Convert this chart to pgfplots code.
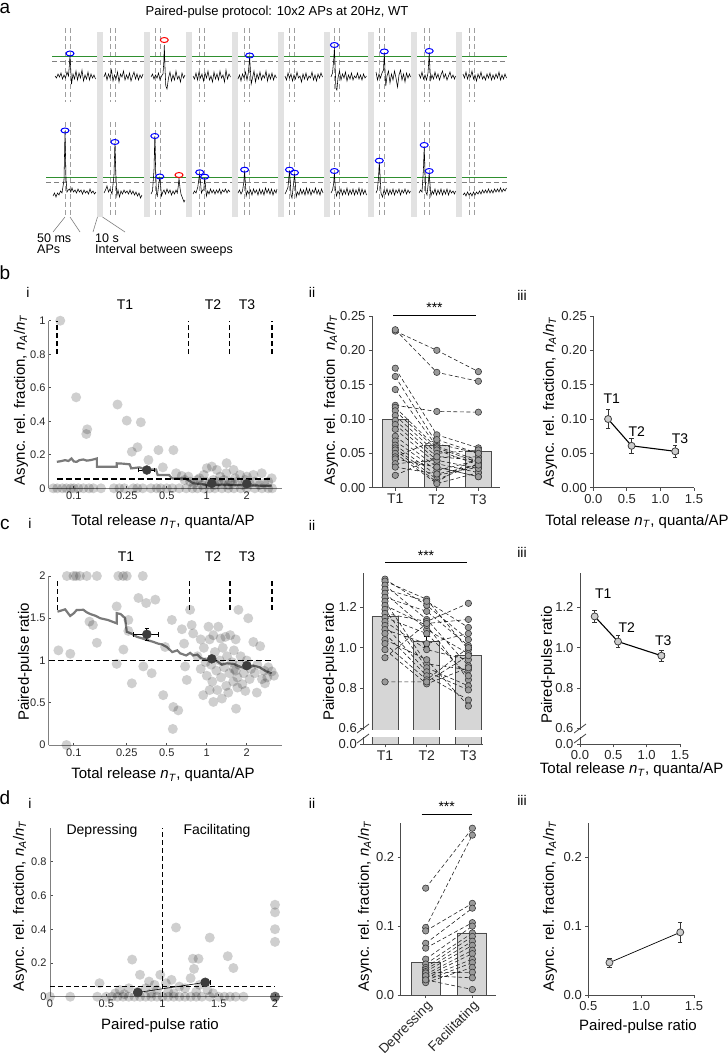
\documentclass[border=0pt]{standalone}
\usepackage{fontspec}
\setmainfont{Liberation Sans}
\usepackage{pgfplots}
\usepackage{pgfplotstable}
\pgfplotsset{compat=1.18}

\definecolor{barfill}{HTML}{D6D6D6}
\definecolor{ptfill}{HTML}{9A9A9A}
\definecolor{ptedge}{HTML}{3A3A3A}
\definecolor{trend}{HTML}{7A7A7A}
\definecolor{meanpt}{HTML}{3C3C3C}
\definecolor{sweepbar}{HTML}{E2E2E2}
\definecolor{thrgreen}{HTML}{2F8F2F}

\newcommand{\tkA}{\fontsize{11}{12}\selectfont}
\newcommand{\tkB}{\fontsize{13}{14}\selectfont}
\newcommand{\lab}{\fontsize{15}{17}\selectfont}
\newcommand{\pan}{\fontsize{19}{21}\selectfont}
\newcommand{\subl}{\fontsize{14}{16}\selectfont}
\newcommand{\smf}{\fontsize{12.5}{10.5}\selectfont}
\newcommand{\nA}{\textit{n}\textsubscript{\textit{A}}}
\newcommand{\nT}{\textit{n}\textsubscript{\textit{T}}}

\pgfplotsset{
  fig/.style={scale only axis, anchor=south west, clip=false, axis lines=left,
    axis line style={-, black!70, line width=0.8pt},
    tick style={black!70, line width=0.8pt}, major tick length=3pt, tick align=outside,
    tick label style={font=\tkB, text=black!85}, xminorticks=false, yminorticks=false},
  figi/.style={fig, tick label style={font=\tkA},
    axis line style={-, black!50, line width=1pt}, tick align=inside, major tick length=2.5pt},
  scat/.style={only marks, mark=*, mark size=5pt,
    mark options={fill=black, draw=black, draw opacity=0, fill opacity=0.19}},
  pts/.style={only marks, mark=*, mark size=3.2pt, mark options={fill=ptfill, draw=ptedge, line width=0.6pt}},
  pair/.style={no marks, black!85, line width=0.6pt, dash pattern=on 4pt off 2.5pt, unbounded coords=jump},
  tdash/.style={no marks, black, line width=1.6pt, dash pattern=on 5pt off 3pt, unbounded coords=jump},
  bars/.style={ybar, bar shift=0pt, fill=barfill, draw=black!70, line width=0.8pt,
    error bars/y dir=both, error bars/y explicit,
    error bars/error bar style={black, line width=0.8pt},
    error bars/error mark options={rotate=90, mark size=2.5pt}},
  meanline/.style={black, line width=1.1pt, mark=*, mark size=3.5pt,
    mark options={fill=gray!40, draw=black!75, line width=0.8pt},
    error bars/x dir=both, error bars/x explicit, error bars/y dir=both, error bars/y explicit,
    error bars/error bar style={black!80, line width=0.8pt},
    error bars/error mark options={rotate=90, mark size=2.2pt}},
  bigmean/.style={mark=*, mark size=4.5pt, mark options={fill=meanpt, draw=meanpt},
    error bars/x dir=both, error bars/x explicit, error bars/y dir=both, error bars/y explicit,
    error bars/error bar style={black, line width=0.8pt},
    error bars/error mark options={rotate=90, mark size=2.2pt}},
}

% paired values: T1, T2, T3 per cell (b ii)
\pgfplotstableread[row sep=\\]{
x y\\
1 0.228\\ 2 0.200\\ 3 0.169\\ 3 nan\\
1 0.230\\ 2 0.168\\ 3 0.155\\ 3 nan\\
1 0.120\\ 2 0.111\\ 3 0.110\\ 3 nan\\
1 0.174\\ 2 0.077\\ 3 0.058\\ 3 nan\\
1 0.162\\ 2 0.064\\ 3 0.050\\ 3 nan\\
1 0.143\\ 2 0.060\\ 3 0.040\\ 3 nan\\
1 0.117\\ 2 0.058\\ 3 0.037\\ 3 nan\\
1 0.112\\ 2 0.055\\ 3 0.033\\ 3 nan\\
1 0.105\\ 2 0.050\\ 3 0.055\\ 3 nan\\
1 0.098\\ 2 0.045\\ 3 0.045\\ 3 nan\\
1 0.092\\ 2 0.040\\ 3 0.028\\ 3 nan\\
1 0.085\\ 2 0.035\\ 3 0.022\\ 3 nan\\
1 0.075\\ 2 0.030\\ 3 0.016\\ 3 nan\\
1 0.068\\ 2 0.025\\ 3 0.040\\ 3 nan\\
1 0.062\\ 2 0.018\\ 3 0.030\\ 3 nan\\
1 0.058\\ 2 0.012\\ 3 0.035\\ 3 nan\\
1 0.055\\ 2 0.008\\ 3 0.045\\ 3 nan\\
1 0.050\\ 2 0.006\\ 3 0.022\\ 3 nan\\
1 0.045\\ 2 0.070\\ 3 0.050\\ 3 nan\\
1 0.042\\ 2 0.030\\ 3 0.016\\ 3 nan\\
1 0.035\\ 2 0.040\\ 3 0.028\\ 3 nan\\
1 0.030\\ 2 0.020\\ 3 0.033\\ 3 nan\\
1 0.018\\ 2 0.045\\ 3 0.040\\
}\pairB

% paired-pulse ratio per cell (c ii)
\pgfplotstableread[row sep=\\]{
x y\\
1 1.34\\ 2 1.21\\ 3 1.04\\ 3 nan\\
1 1.33\\ 2 1.24\\ 3 0.99\\ 3 nan\\
1 1.31\\ 2 1.14\\ 3 0.91\\ 3 nan\\
1 1.29\\ 2 1.23\\ 3 1.10\\ 3 nan\\
1 1.27\\ 2 1.09\\ 3 0.97\\ 3 nan\\
1 1.25\\ 2 1.18\\ 3 1.01\\ 3 nan\\
1 1.23\\ 2 0.92\\ 3 0.89\\ 3 nan\\
1 1.21\\ 2 1.11\\ 3 0.84\\ 3 nan\\
1 1.19\\ 2 0.90\\ 3 0.81\\ 3 nan\\
1 1.17\\ 2 1.13\\ 3 1.22\\ 3 nan\\
1 1.15\\ 2 1.07\\ 3 0.86\\ 3 nan\\
1 1.13\\ 2 0.99\\ 3 0.94\\ 3 nan\\
1 1.11\\ 2 0.88\\ 3 0.79\\ 3 nan\\
1 1.09\\ 2 1.02\\ 3 1.07\\ 3 nan\\
1 1.07\\ 2 0.86\\ 3 0.74\\ 3 nan\\
1 1.04\\ 2 0.94\\ 3 0.71\\ 3 nan\\
1 1.02\\ 2 0.84\\ 3 1.00\\ 3 nan\\
1 0.99\\ 2 0.82\\ 3 0.90\\ 3 nan\\
1 0.95\\ 2 1.12\\ 3 1.14\\ 3 nan\\
1 0.83\\ 2 0.83\\ 3 0.96\\
}\pairC

% depressing vs facilitating (d ii)
\pgfplotstableread[row sep=\\]{
x y\\
1 0.155\\ 2 0.242\\ 2 nan\\
1 0.098\\ 2 0.232\\ 2 nan\\
1 0.093\\ 2 0.133\\ 2 nan\\
1 0.075\\ 2 0.126\\ 2 nan\\
1 0.068\\ 2 0.105\\ 2 nan\\
1 0.052\\ 2 0.100\\ 2 nan\\
1 0.045\\ 2 0.090\\ 2 nan\\
1 0.040\\ 2 0.085\\ 2 nan\\
1 0.037\\ 2 0.078\\ 2 nan\\
1 0.034\\ 2 0.072\\ 2 nan\\
1 0.030\\ 2 0.065\\ 2 nan\\
1 0.027\\ 2 0.060\\ 2 nan\\
1 0.025\\ 2 0.052\\ 2 nan\\
1 0.021\\ 2 0.047\\ 2 nan\\
1 0.018\\ 2 0.040\\ 2 nan\\
1 0.032\\ 2 0.033\\ 2 nan\\
1 0.028\\ 2 0.025\\ 2 nan\\
1 0.022\\ 2 0.008\\
}\pairD

\begin{document}
\begin{tikzpicture}
\path[use as bounding box] (0,0) rectangle (728pt,-1053pt);

%%%%%%%%%%%%%%%% panel a: traces, in pixel units
\begin{axis}[at={(0pt,0pt)}, anchor=north west, scale only axis, width=728pt, height=260pt,
  xmin=0, xmax=728, ymin=0, ymax=260, y dir=reverse, axis lines=none, clip=false]
% AP windows
\addplot[gray!75, line width=0.6pt, dash pattern=on 5pt off 3pt, unbounded coords=jump] coordinates {
(65,28)(65,102)(65,nan)(65,122)(65,217)(65,nan)(70,28)(70,102)(70,nan)(70,122)(70,217)(70,nan)
(109.9,28)(109.9,102)(109.9,nan)(109.9,122)(109.9,217)(109.9,nan)(114.9,28)(114.9,102)(114.9,nan)(114.9,122)(114.9,217)(114.9,nan)
(154.8,28)(154.8,102)(154.8,nan)(154.8,122)(154.8,217)(154.8,nan)(159.8,28)(159.8,102)(159.8,nan)(159.8,122)(159.8,217)(159.8,nan)
(199.7,28)(199.7,102)(199.7,nan)(199.7,122)(199.7,217)(199.7,nan)(204.7,28)(204.7,102)(204.7,nan)(204.7,122)(204.7,217)(204.7,nan)
(244.6,28)(244.6,102)(244.6,nan)(244.6,122)(244.6,217)(244.6,nan)(249.6,28)(249.6,102)(249.6,nan)(249.6,122)(249.6,217)(249.6,nan)
(289.5,28)(289.5,102)(289.5,nan)(289.5,122)(289.5,217)(289.5,nan)(294.5,28)(294.5,102)(294.5,nan)(294.5,122)(294.5,217)(294.5,nan)
(334.4,28)(334.4,102)(334.4,nan)(334.4,122)(334.4,217)(334.4,nan)(339.4,28)(339.4,102)(339.4,nan)(339.4,122)(339.4,217)(339.4,nan)
(379.3,28)(379.3,102)(379.3,nan)(379.3,122)(379.3,217)(379.3,nan)(384.3,28)(384.3,102)(384.3,nan)(384.3,122)(384.3,217)(384.3,nan)
(424.2,28)(424.2,102)(424.2,nan)(424.2,122)(424.2,217)(424.2,nan)(429.2,28)(429.2,102)(429.2,nan)(429.2,122)(429.2,217)(429.2,nan)
(469.1,28)(469.1,102)(469.1,nan)(469.1,122)(469.1,217)(469.1,nan)(474.1,28)(474.1,102)(474.1,nan)(474.1,122)(474.1,217)
};
% thresholds
\addplot[thrgreen, line width=0.8pt, unbounded coords=jump] coordinates {(52,56.7)(507,56.7)(507,nan)(46,177.3)(507,177.3)};
\addplot[gray, line width=0.8pt, dash pattern=on 5pt off 3pt, unbounded coords=jump] coordinates {(52,61)(507,61)(507,nan)(46,182.7)(507,182.7)};
% intervals between sweeps
\addplot[fill=sweepbar, draw=none] coordinates {(97,32)(103,32)(103,217)(97,217)};
\addplot[fill=sweepbar, draw=none] coordinates {(144,32)(150,32)(150,217)(144,217)};
\addplot[fill=sweepbar, draw=none] coordinates {(186,32)(192,32)(192,217)(186,217)};
\addplot[fill=sweepbar, draw=none] coordinates {(231.5,32)(237.5,32)(237.5,217)(231.5,217)};
\addplot[fill=sweepbar, draw=none] coordinates {(278,32)(284,32)(284,217)(278,217)};
\addplot[fill=sweepbar, draw=none] coordinates {(324,32)(330,32)(330,217)(324,217)};
\addplot[fill=sweepbar, draw=none] coordinates {(367.5,32)(373.5,32)(373.5,217)(367.5,217)};
\addplot[fill=sweepbar, draw=none] coordinates {(411,32)(417,32)(417,217)(411,217)};
\addplot[fill=sweepbar, draw=none] coordinates {(456,32)(462,32)(462,217)(456,217)};
% top row traces
\addplot[black, line width=0.55pt, unbounded coords=jump] coordinates {
(55,76)(56.5,78)(58,74)(59.5,77)(61,73)(62.5,79)(64,75)(65.5,78)(67,72)(68.5,76)(69.3,66)(70,55)(70.8,70)(71.5,84)(73,74)(74.5,79)(76,71)(77.5,80)(79,73)(80.5,78)(82,70)(83.5,81)(85,75)(86.5,79)(88,72)(89.5,80)(91,74)(92.5,78)(94,75)(95.5,79)(95.5,nan)
(104,77)(105.5,73)(107,80)(108.5,74)(110,78)(111.5,70)(113,81)(114.5,75)(116,79)(117.5,72)(119,82)(120.5,74)(122,77)(123.5,71)(125,80)(126.5,75)(128,79)(129.5,73)(131,81)(132.5,76)(134,72)(135.5,79)(137,74)(138.5,80)(140,75)(141.5,78)(143,74)(143,nan)
(151,77)(152.5,74)(154,79)(155.5,75)(157,78)(158.5,73)(160,80)(161.5,76)(163,74)(163.8,62)(164.3,45)(165,68)(165.8,86)(167,89)(168.5,78)(170,72)(171.5,81)(173,75)(174.5,80)(176,71)(177.5,79)(179,76)(180.5,82)(182,73)(183.5,78)(185,75)(185,nan)
(193,76)(194.5,79)(196,73)(197.5,80)(199,72)(200.5,78)(202,74)(203.5,81)(205,73)(206.5,78)(208,71)(209.5,80)(211,76)(212.5,82)(214,72)(215.5,79)(217,74)(218.5,80)(220,71)(221.5,78)(223,75)(224.5,82)(226,70)(227.5,79)(229,74)(230.5,77)(230.5,nan)
(238,79)(239.5,75)(241,81)(242.5,74)(244,78)(245.5,72)(247,80)(248.3,73)(249,65)(249.6,57)(250.3,68)(251.2,84)(252.5,78)(254,71)(255.5,82)(257,74)(258.5,79)(260,72)(261.5,80)(263,75)(264.5,78)(266,71)(267.5,81)(269,74)(270.5,79)(272,73)(273.5,80)(275,75)(276.5,78)(276.5,nan)
(285,76)(286.5,80)(288,73)(289.5,78)(291,74)(292.5,81)(294,75)(295.5,79)(297,72)(298.5,78)(300,76)(301.5,82)(303,74)(304.5,79)(306,73)(307.5,80)(309,76)(310.5,78)(312,72)(313.5,80)(315,75)(316.5,81)(318,74)(319.5,78)(321,73)(322.5,77)(322.5,nan)
(331,77)(332.5,73)(333.7,60)(334.4,48)(335.1,66)(335.9,88)(336.9,90)(338,78)(339.5,71)(341,80)(342.5,74)(344,78)(345.5,72)(347,81)(348.5,75)(350,79)(351.5,73)(353,80)(354.5,76)(356,78)(357.5,73)(359,79)(360.5,75)(362,80)(363.5,74)(365,78)(366.5,76)(366.5,nan)
(376,72)(377.5,80)(379,74)(380.5,78)(382,73)(383.5,70)(384.3,53)(385,70)(385.8,86)(387,76)(388.5,71)(390,83)(391.5,74)(393,80)(394.5,71)(396,78)(397.5,87)(399,75)(400.5,70)(402,80)(403.5,74)(405,82)(406.5,73)(408,78)(409.5,74)(410.5,77)(410.5,nan)
(419,74)(420.5,78)(422,72)(423.5,79)(425,75)(426.5,80)(428,73)(428.6,64)(429.2,53)(429.9,68)(430.7,80)(432,75)(433.5,79)(435,72)(436.5,78)(438,74)(439.5,80)(441,75)(442.5,71)(444,78)(445.5,74)(447,80)(448.5,76)(450,72)(451.5,78)(453,75)(454.5,79)(455.5,76)(455.5,nan)
(463,74)(464.5,78)(466,72)(467.5,79)(469,74)(470.5,77)(472,71)(473.5,79)(475,75)(476.5,81)(478,74)(479.5,78)(481,72)(482.5,79)(484,76)(485.5,80)(487,74)(488.5,78)(490,73)(491.5,80)(493,75)(494.5,79)(496,74)(497.5,78)(499,72)(500.5,80)(502,75)(503.5,79)(505,74)(506.5,78)
};
% bottom row traces
\addplot[black, line width=0.55pt, unbounded coords=jump] coordinates {
(53,196)(54.5,193)(56,197)(57.5,193)(59,195)(60.5,191)(62,193)(64,180)(65,131)(66,178)(67,192)(68.3,190)(69.5,189)(70.8,192)(72,188)(73.5,192)(75,190)(76.5,193)(78,189)(79.5,192)(81,190)(82.5,194)(84,190)(85.5,193)(87,191)(88.5,194)(90,189)(91.5,193)(93,191)(94.5,194)(96,192)(96,nan)
(104,193)(105.5,190)(107,186)(108.5,192)(110,189)(112,194)(114,175)(114.9,143)(115.8,172)(116.8,196)(118,190)(119.5,197)(121,191)(122.5,194)(124,190)(125.5,193)(127,191)(128.5,194)(130,190)(131.5,194)(133,191)(134.5,195)(136,192)(137.5,196)(139,193)(140.5,198)(142,195)(142,nan)
(151,194)(152.5,191)(154,170)(154.8,136)(155.6,168)(156.4,193)(157.3,196)(158.2,189)(159,182)(159.8,178)(160.6,185)(161.5,196)(162.8,192)(164,190)(165.5,194)(167,189)(168.5,193)(170,190)(171.5,195)(173,191)(174.5,194)(176,190)(177.3,193)(178.3,186)(179,178)(180,188)(181,194)(182.5,198)(184,202)(185,200)(185,nan)
(193,194)(194.5,191)(196,193)(197.8,187)(199,178)(199.7,174)(200.5,182)(201.4,193)(202.6,190)(203.8,190)(204.2,184)(204.7,178)(205.5,186)(206.4,196)(207.7,191)(209,194)(210.5,189)(212,193)(213.5,190)(215,194)(216.5,190)(218,193)(219.5,189)(221,194)(222.5,190)(224,192)(225.5,189)(227,193)(228.5,190)(230,192)(230,nan)
(238,193)(239.5,190)(241,194)(242.5,191)(243.8,182)(244.6,171)(245.4,183)(246.2,196)(247.5,191)(249,194)(250.5,190)(252,195)(253.5,189)(255,193)(256.5,190)(258,195)(259.5,189)(261,194)(262.5,190)(264,195)(265.5,188)(267,193)(268.5,189)(270,194)(271.5,189)(273,195)(274.5,190)(276,193)(277,189)(277,nan)
(285,194)(286.5,191)(288,187)(288.8,178)(289.5,171)(290.2,180)(291,195)(292,198)(293.3,186)(294.5,174)(295.3,183)(296.2,197)(297.5,192)(299,195)(300.5,189)(302,194)(303.5,190)(305,195)(306.5,188)(308,194)(309.5,189)(311,195)(312.5,190)(314,193)(315.5,188)(317,194)(318.5,190)(320,195)(321.5,189)(323,193)(323,nan)
(331,193)(332.5,190)(333.6,184)(334.4,173)(335.3,188)(336.5,196)(338,191)(339.5,194)(341,189)(342.5,195)(344,190)(345.5,194)(347,188)(348.5,195)(350,190)(351.5,194)(353,189)(354.5,195)(356,190)(357.5,194)(359,188)(360.5,195)(362,189)(363.5,194)(365,190)(366.5,195)(366.5,nan)
(376,193)(377.3,190)(378.5,178)(379.3,162)(380.1,176)(381,193)(382.5,197)(384,190)(385.5,194)(387,189)(388.5,195)(390,190)(391.5,194)(393,189)(394.5,195)(396,190)(397.5,193)(399,189)(400.5,195)(402,190)(403.5,193)(405,189)(406.5,194)(408,190)(409.5,193)(410.5,191)(410.5,nan)
(419,193)(420.5,190)(422,192)(423.4,170)(424.2,147)(425,170)(425.8,192)(427,195)(428.4,182)(429.2,173)(430,184)(430.9,196)(432.2,191)(433.5,194)(435,189)(436.5,195)(438,190)(439.5,194)(441,189)(442.5,195)(444,190)(445.5,194)(447,189)(448.5,195)(450,190)(451.5,193)(453,191)(454.5,194)(455.5,191)(455.5,nan)
(463,195)(464.5,193)(466,196)(467.5,192)(469,195)(470.5,193)(472,196)(473.5,192)(475,195)(476.5,192)(478,194)(479.5,191)(481,194)(482.5,190)(484,193)(485.5,190)(487,193)(488.5,189)(490,193)(491.5,190)(493,193)(494.5,189)(496,192)(497.5,189)(499,192)(500.5,188)(502,192)(503.5,189)(505,191)(506.5,188)
};
% detected events
\addplot[only marks, mark=o, mark size=2.5pt, blue, mark options={xscale=1.6, line width=1pt}] coordinates {
(70,53.5)(249.6,55.5)(334.4,45)(384.3,51.5)(429.2,51)
(65,130.5)(114.9,142)(154.8,136)(159.8,176.5)(199.7,172.3)(204.7,176.7)(244.6,169.7)(289.5,169.7)(294.5,172.7)(334.4,171)(379.3,160.7)(424.2,145)(429.2,171)};
\addplot[only marks, mark=o, mark size=2.5pt, red, mark options={xscale=1.6, line width=1pt}] coordinates {(164.3,40)(179,175)};
% pointers to the legend text
\addplot[gray, line width=0.6pt, unbounded coords=jump] coordinates {(65,217)(53,232)(53,nan)(70,217)(80,232)(80,nan)(97.5,217)(93,232)(93,nan)(102.5,217)(125,232)};
\end{axis}

%%%%%%%%%%%%%%%% b i
\begin{axis}[figi, at={(49pt,-488.3pt)}, width=233pt, height=167.6pt, xmode=log,
  xmin=0.065, xmax=3.68, ymin=0, ymax=1,
  xtick={0.1,0.25,0.5,1,2}, xticklabels={0.1,0.25,0.5,1,2},
  ytick={0,0.2,0.4,0.6,0.8,1}, yticklabels={0,0.2,0.4,0.6,0.8,1}]
\addplot[scat] coordinates {
(0.079,1.0)(0.104,0.543)(0.126,0.352)(0.124,0.324)(0.213,0.50)(0.25,0.404)(0.319,0.394)(0.301,0.245)(0.273,0.218)
(0.364,0.169)(0.433,0.228)(0.467,0.125)(0.561,0.228)(0.588,0.09)(0.648,0.074)(0.727,0.07)(0.88,0.06)(1.0,0.12)
(1.09,0.13)(1.19,0.11)(1.26,0.07)(1.41,0.15)(1.59,0.11)(1.63,0.06)(1.78,0.08)(2.24,0.08)(2.59,0.09)(3.08,0.06)
(0.68,0.05)(0.75,0.04)(0.8,0.03)(0.85,0.05)(0.92,0.02)(0.98,0.04)(1.05,0.03)(1.12,0.05)(1.15,0.02)(1.22,0.04)
(1.3,0.03)(1.35,0.05)(1.45,0.02)(1.5,0.04)(1.55,0.03)(1.7,0.04)(1.85,0.02)(1.95,0.05)(2.1,0.03)(2.3,0.04)
(2.5,0.02)(2.7,0.03)(2.9,0.04)(0.95,0.08)(1.4,0.09)(2.0,0.07)
(0.07,0)(0.075,0)(0.082,0)(0.088,0)(0.095,0)(0.1,0)(0.108,0)(0.118,0)(0.13,0)(0.14,0)(0.16,0)(0.2,0)(0.22,0)
(0.24,0)(0.28,0)(0.3,0)(0.33,0)(0.38,0)(0.42,0)(0.45,0)(0.5,0)(0.55,0)(0.62,0)(0.7,0)(0.78,0)(0.85,0)(0.95,0)
(1.05,0)(1.15,0)(1.3,0)(1.45,0)(1.6,0)(1.8,0)(2.0,0)(2.3,0)(2.6,0)(2.9,0)(3.1,0)};
\addplot[trend, line width=2.2pt] coordinates {
(0.0745,0.158)(0.08,0.162)(0.086,0.168)(0.091,0.163)(0.096,0.178)(0.1,0.16)(0.105,0.158)(0.11,0.168)(0.118,0.172)
(0.125,0.165)(0.133,0.168)(0.14,0.172)(0.149,0.178)(0.149,0.129)(0.18,0.129)(0.21,0.129)(0.21,0.149)(0.235,0.147)
(0.263,0.143)(0.27,0.119)(0.29,0.122)(0.312,0.125)(0.33,0.118)(0.35,0.113)(0.415,0.113)(0.427,0.079)(0.52,0.079)
(0.55,0.059)(0.69,0.059)(0.74,0.045)(0.79,0.03)(0.9,0.026)(1.0,0.02)(1.3,0.022)(1.59,0.02)(2.2,0.017)(3.08,0.014)};
\addplot[tdash] coordinates {(0.0745,0.8)(0.0745,1)(0.0745,nan)(0.727,0.8)(0.727,1)(0.727,nan)(1.48,0.8)(1.48,1)(1.48,nan)(3.08,0.8)(3.08,1)};
\addplot[no marks, black, line width=1.4pt, dash pattern=on 6pt off 3pt] coordinates {(0.0745,0.055)(3.08,0.055)};
\addplot[bigmean, only marks] coordinates {(0.354,0.109) +- (0.05,0.014) (1.09,0.03) +- (0.05,0.005) (2.0,0.027) +- (0.06,0.005)};
\end{axis}

%%%%%%%%%%%%%%%% b ii
\begin{axis}[fig, at={(372pt,-487.7pt)}, width=128pt, height=171.7pt,
  xmin=0.44, xmax=3.52, ymin=0, ymax=0.25,
  xtick={1,2,3}, xticklabels={T1,T2,T3}, xticklabel style={font=\subl},
  ytick={0,0.05,0.1,0.15,0.2,0.25}, yticklabels={0.00,0.05,0.10,0.15,0.20,0.25}]
\addplot[bars, bar width=25.6pt] coordinates {(1,0.100) +- (0,0.012) (2,0.061) +- (0,0.006) (3,0.053) +- (0,0.005)};
\addplot[pair] table {\pairB};
\addplot[pts] table {\pairB};
\end{axis}

%%%%%%%%%%%%%%%% b iii
\begin{axis}[fig, at={(593.3pt,-487.7pt)}, width=100.7pt, height=171.7pt,
  xmin=0, xmax=1.5, ymin=0, ymax=0.25,
  xtick={0,0.5,1,1.5}, xticklabels={0.0,0.5,1.0,1.5},
  ytick={0,0.05,0.1,0.15,0.2,0.25}, yticklabels={0.00,0.05,0.10,0.15,0.20,0.25}]
\addplot[meanline] coordinates {(0.22,0.100) +- (0.02,0.014) (0.57,0.061) +- (0.03,0.011) (1.22,0.053) +- (0.05,0.009)};
\end{axis}

%%%%%%%%%%%%%%%% c i
\begin{axis}[figi, at={(49pt,-745pt)}, width=233pt, height=169pt, xmode=log,
  xmin=0.065, xmax=3.68, ymin=0, ymax=2,
  xtick={0.1,0.25,0.5,1,2}, xticklabels={0.1,0.25,0.5,1,2},
  ytick={0,0.5,1,1.5,2}, yticklabels={0,0.5,1,1.5,2}]
\addplot[scat] coordinates {
(0.0886,2)(0.0993,2)(0.104,2)(0.111,2)(0.125,2)(0.149,2)(0.216,2)(0.235,2)(0.25,2)(0.33,2)
(0.0765,1.12)(0.094,1.08)(0.131,1.46)(0.139,1.42)(0.149,1.21)(0.21,1.64)(0.21,0.96)(0.236,1.13)(0.257,1.48)
(0.257,1.35)(0.273,0.73)(0.306,1.74)(0.35,1.68)(0.41,1.72)(0.333,0.93)(0.385,0.85)(0.47,0.59)(0.486,1.16)
(0.546,1.48)(0.56,0.45)(0.61,0.41)(0.65,1.37)(0.675,1.2)(0.687,0.93)(0.707,0.77)(0.749,1.6)(0.79,1.32)
(0.77,1.42)(0.555,0.19)(0.94,0.59)(1.03,1.4)(1.22,1.4)(1.27,1.26)(1.5,1.3)(1.73,1.6)(2.05,1.5)(2.24,1.22)
(2.52,1.17)(1.66,0.43)(1.12,0.51)(1.3,0.55)(1.45,0.62)(2.38,0.62)(1.95,0.64)(2.74,0.73)(3.08,0.87)(3.2,0.82)
(2.85,0.8)(0.088,0.0)
(0.85,1.05)(0.9,0.9)(0.95,1.15)(1.0,0.82)(1.05,1.25)(1.08,0.95)(1.1,0.75)(1.15,1.1)(1.18,0.88)(1.2,0.65)
(1.25,1.0)(1.28,0.8)(1.32,1.15)(1.35,0.92)(1.4,0.7)(1.42,1.05)(1.48,0.85)(1.55,0.98)(1.58,0.75)(1.6,1.12)
(1.65,0.88)(1.7,0.8)(1.75,0.95)(1.8,1.05)(1.85,0.72)(1.9,0.85)(2.0,1.0)(2.1,0.78)(2.15,0.9)(2.3,0.85)
(2.4,0.95)(2.6,0.78)(2.7,0.88)(2.9,0.92)(0.9,1.25)(1.05,0.65)(1.6,0.9)(1.7,0.68)(0.98,0.98)(1.12,1.3)
(1.38,1.28)(1.65,1.25)};
\addplot[trend, line width=2.2pt] coordinates {
(0.0753,1.578)(0.08,1.59)(0.086,1.606)(0.0938,1.527)(0.1,1.56)(0.105,1.598)(0.118,1.6)(0.125,1.57)(0.133,1.55)
(0.145,1.53)(0.158,1.5)(0.18,1.48)(0.21,1.44)(0.21,1.56)(0.225,1.55)(0.243,1.5)(0.25,1.34)(0.27,1.32)(0.298,1.28)
(0.33,1.26)(0.36,1.24)(0.397,1.22)(0.43,1.2)(0.46,1.19)(0.5,1.16)(0.55,1.10)(0.6,1.12)(0.63,1.085)(0.7,1.06)
(0.75,1.09)(0.79,1.06)(0.85,1.07)(0.9,1.03)(1.0,1.006)(1.1,1.02)(1.2,0.99)(1.3,0.95)(1.41,0.967)(1.6,0.96)
(1.78,0.927)(2.0,0.9)(2.24,0.94)(2.5,0.92)(2.8,0.87)(3.08,0.85)};
\addplot[tdash] coordinates {(0.0753,1.6)(0.0753,1.97)(0.0753,nan)(0.74,1.6)(0.74,1.97)(0.74,nan)(1.5,1.6)(1.5,1.97)(1.5,nan)(3.1,1.6)(3.1,1.97)};
\addplot[no marks, black, line width=1.4pt, dash pattern=on 6pt off 3pt] coordinates {(0.065,1)(3.1,1)};
\addplot[bigmean, only marks] coordinates {(0.354,1.31) +- (0.075,0.07) (1.09,1.02) +- (0.05,0.02) (2.0,0.94) +- (0.06,0.02)};
\end{axis}

%%%%%%%%%%%%%%%% c ii (broken axis: 0.0 drawn at 0.52)
\begin{axis}[fig, clip=true, at={(363.3pt,-744.3pt)}, width=119.7pt, height=171pt,
  xmin=0.48, xmax=3.35, ymin=0.52, ymax=1.369,
  xtick={1,2,3}, xticklabels={T1,T2,T3}, xticklabel style={font=\subl},
  ytick={0.52,0.6,0.8,1,1.2}, yticklabels={0.0,0.6,0.8,1.0,1.2}]
\addplot[bars, bar width=26pt] coordinates {(1,1.155) +- (0,0.03) (2,1.03) +- (0,0.025) (3,0.96) +- (0,0.025)};
\addplot[pair] table {\pairC};
\addplot[pts] table {\pairC};
\end{axis}

%%%%%%%%%%%%%%%% c iii
\begin{axis}[fig, at={(580pt,-744.3pt)}, width=100pt, height=171pt,
  xmin=0, xmax=1.5, ymin=0.52, ymax=1.369,
  xtick={0,0.5,1,1.5}, xticklabels={0.0,0.5,1.0,1.5},
  ytick={0.52,0.6,0.8,1,1.2}, yticklabels={0.0,0.6,0.8,1.0,1.2}]
\addplot[meanline] coordinates {(0.22,1.155) +- (0.02,0.03) (0.57,1.03) +- (0.03,0.03) (1.22,0.96) +- (0.05,0.025)};
\end{axis}

%%%%%%%%%%%%%%%% d i
\begin{axis}[figi, at={(50pt,-996.7pt)}, width=233pt, height=168.75pt,
  xmin=0, xmax=2.071, ymin=0, ymax=1,
  xtick={0,0.5,1,1.5,2}, xticklabels={0,0.5,1,1.5,2},
  ytick={0,0.2,0.4,0.6,0.8}, yticklabels={0,0.2,0.4,0.6,0.8}]
\addplot[scat] coordinates {
(1.12,0.41)(1.42,0.35)(2,0.545)(2,0.5)(2,0.4)(2,0.325)(1.58,0.24)(1.63,0.17)(0.73,0.22)(1.27,0.225)(1.32,0.225)
(1.28,0.165)(1.25,0.11)(0.44,0.08)(0.8,0.13)(0.98,0.13)(0.88,0.09)(0.93,0.07)(1.03,0.08)(1.08,0.1)(1.15,0.06)
(1.33,0.07)(0.62,0.04)(0.7,0.05)(0.78,0.03)(0.85,0.05)(0.95,0.04)(1.05,0.03)(1.2,0.05)(1.4,0.04)(1.45,0.02)
(0.58,0.02)(0.66,0.015)(0.9,0.02)(1.1,0.02)(1.3,0.03)
(0,0)(0.18,0)(0.42,0)(0.5,0)(0.55,0)(0.6,0)(0.65,0)(0.7,0)(0.75,0)(0.8,0)(0.85,0)(0.9,0)(0.95,0)(1.0,0)
(1.05,0)(1.1,0)(1.15,0)(1.2,0)(1.25,0)(1.3,0)(1.35,0)(1.42,0)(1.5,0)(1.55,0)(1.6,0)(1.65,0)(1.72,0)
(2,0)(2,0)(2,0)(2,0)};
\addplot[no marks, black, line width=1.1pt, dash pattern=on 5pt off 3pt, unbounded coords=jump] coordinates {(1,0)(1,1)(1,nan)(0,0.059)(2,0.059)};
\addplot[bigmean, black, line width=0.6pt] coordinates {(0.78,0.025) +- (0.03,0.006) (1.38,0.085) +- (0.04,0.01)};
\end{axis}

%%%%%%%%%%%%%%%% d ii
\begin{axis}[fig, at={(400.7pt,-995pt)}, width=95pt, height=172.3pt,
  xmin=0.465, xmax=2.5, ymin=0, ymax=0.25,
  xtick={1,2}, xticklabels={Depressing,Facilitating},
  xticklabel style={font=\fontsize{13.5}{15}\selectfont, rotate=45, anchor=north east, inner sep=1pt},
  ytick={0,0.1,0.2}, yticklabels={0.0,0.1,0.2}]
\addplot[bars, bar width=29pt] coordinates {(1,0.047) +- (0,0.004) (2,0.090) +- (0,0.008)};
\addplot[pair] table {\pairD};
\addplot[pts] table {\pairD};
\end{axis}

%%%%%%%%%%%%%%%% d iii
\begin{axis}[fig, at={(588.3pt,-995pt)}, width=105.7pt, height=172.3pt,
  xmin=0.5, xmax=1.5, ymin=0, ymax=0.25,
  xtick={0.5,1,1.5}, xticklabels={0.5,1.0,1.5},
  ytick={0,0.1,0.2}, yticklabels={0.0,0.1,0.2}]
\addplot[meanline, line width=0.7pt] coordinates {(0.70,0.047) +- (0,0.007) (1.37,0.091) +- (0,0.014)};
\end{axis}

%%%%%%%%%%%%%%%% axis breaks
\fill[white] (361pt,-729.5pt) rectangle (487pt,-737pt);
\draw[black!75, line width=0.8pt] (357pt,-733pt) -- (369pt,-724pt) (357pt,-743pt) -- (369pt,-734pt);
\fill[white] (577pt,-729.5pt) rectangle (583pt,-737pt);
\draw[black!75, line width=0.8pt] (574pt,-733pt) -- (586pt,-724pt) (574pt,-743pt) -- (586pt,-734pt);

%%%%%%%%%%%%%%%% text
\node[font=\pan] at (5pt,-8pt) {a};
\node[font=\pan] at (5pt,-273pt) {b};
\node[font=\pan] at (5pt,-524pt) {c};
\node[font=\pan] at (5pt,-798pt) {d};
\node[font=\fontsize{13}{15}\selectfont] at (277pt,-12pt) {Paired-pulse protocol: 10x2 APs at 20Hz, WT};
\node[font=\smf, anchor=north west, align=left, inner sep=0pt] at (37pt,-234pt) {50 ms\\APs};
\node[font=\smf, anchor=north west, align=left, inner sep=0pt] at (95pt,-234pt) {10 s\\Interval between sweeps};

\node[font=\subl] at (28pt,-292pt) {i};
\node[font=\subl] at (312pt,-292pt) {ii};
\node[font=\subl] at (522pt,-295pt) {iii};
\node[font=\subl] at (30pt,-523pt) {i};
\node[font=\subl] at (312pt,-525pt) {ii};
\node[font=\subl] at (522pt,-552pt) {iii};
\node[font=\subl] at (30pt,-803pt) {i};
\node[font=\subl] at (312pt,-803pt) {ii};
\node[font=\subl] at (522pt,-800pt) {iii};

\node[font=\subl] at (125pt,-305pt) {T1};
\node[font=\subl] at (213pt,-305pt) {T2};
\node[font=\subl] at (247pt,-305pt) {T3};
\node[font=\subl] at (126pt,-556.7pt) {T1};
\node[font=\subl] at (213pt,-556.7pt) {T2};
\node[font=\subl] at (247pt,-556.7pt) {T3};
\node[font=\subl] at (611.7pt,-398.3pt) {T1};
\node[font=\subl] at (636.7pt,-431.7pt) {T2};
\node[font=\subl] at (680pt,-438.3pt) {T3};
\node[font=\subl] at (603.3pt,-593.3pt) {T1};
\node[font=\subl] at (626.7pt,-627.3pt) {T2};
\node[font=\subl] at (663.3pt,-640.7pt) {T3};
\node[font=\subl] at (102pt,-830.7pt) {Depressing};
\node[font=\subl] at (217pt,-830.7pt) {Facilitating};

\draw[black, line width=0.8pt] (393pt,-315pt) -- (476pt,-315pt);
\node[font=\subl, anchor=base] at (434.5pt,-312pt) {***};
\draw[black, line width=0.8pt] (385pt,-562.7pt) -- (467pt,-562.7pt);
\node[font=\subl, anchor=base] at (426pt,-560pt) {***};
\draw[black, line width=0.8pt] (421.7pt,-814pt) -- (471.7pt,-814pt);
\node[font=\subl, anchor=base] at (446.7pt,-811.5pt) {***};

\node[font=\lab, rotate=90] at (21pt,-400pt) {Async. rel. fraction, \nA/\nT};
\node[font=\lab] at (163pt,-522pt) {Total release \nT, quanta/AP};
\node[font=\lab, rotate=90] at (331pt,-400pt) {Async. rel. fraction\ \ \nA/\nT};
\node[font=\lab, rotate=90] at (550pt,-402pt) {Async. rel. fraction, \nA/\nT};
\node[font=\lab] at (637pt,-521.7pt) {Total release \nT, quanta/AP};

\node[font=\lab, rotate=90] at (25pt,-662pt) {Paired-pulse ratio};
\node[font=\lab] at (163pt,-775pt) {Total release \nT, quanta/AP};
\node[font=\lab, rotate=90] at (330pt,-662pt) {Paired-pulse ratio};
\node[font=\lab, rotate=90] at (548pt,-665pt) {Paired-pulse ratio};
\node[font=\lab] at (631.7pt,-770pt) {Total release \nT, quanta/AP};

\node[font=\lab, rotate=90] at (20pt,-906pt) {Async. rel. fraction, \nA/\nT};
\node[font=\lab] at (160pt,-1026pt) {Paired-pulse ratio};
\node[font=\lab, rotate=90] at (365pt,-906pt) {Async. rel. fraction, \nA/\nT};
\node[font=\lab, rotate=90] at (550pt,-906pt) {Async. rel. fraction, \nA/\nT};
\node[font=\lab] at (638pt,-1026.7pt) {Paired-pulse ratio};
\end{tikzpicture}
\end{document}
